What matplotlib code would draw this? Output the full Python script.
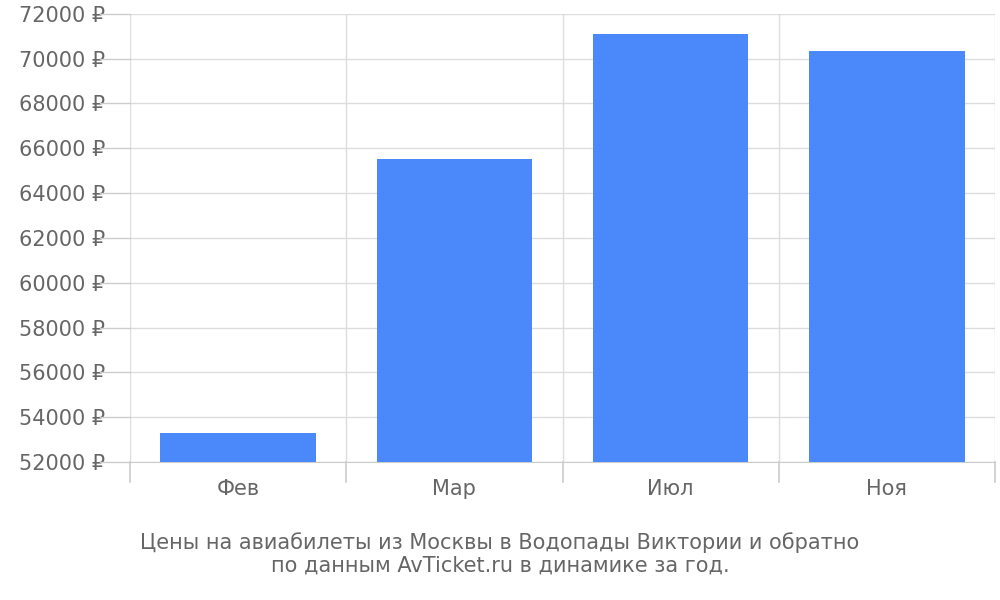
import matplotlib
matplotlib.use("Agg")
import matplotlib.pyplot as plt
import numpy as np

categories = ["Фев", "Мар", "Июл", "Ноя"]
values = [53300, 65500, 71100, 70350]
yticks = list(range(52000, 72001, 2000))

fig = plt.figure(figsize=(10, 6), dpi=100)
ax = fig.add_axes([0.13, 0.23, 0.865, 0.747])
x = np.arange(len(categories))
ax.bar(x, values, width=0.72, color="#4b89fa", zorder=3)
ax.set_xlim(-0.5, len(categories) - 0.5)
ax.set_ylim(52000, 72000)
ax.set_yticks(yticks)
ax.set_yticklabels([f"{v} ₽" for v in yticks], fontsize=15, color="#666666")
ax.set_xticks(x)
ax.set_xticklabels(categories, fontsize=15, color="#666666")
ax.tick_params(axis="x", length=0, pad=12)
ax.tick_params(axis="y", length=0, pad=18)
for b in np.arange(-0.5, len(categories), 1.0):
    ax.axvline(b, color="#dddddd", lw=1, zorder=1)
    ax.plot([b, b], [0, -0.045], transform=ax.get_xaxis_transform(), color="#cccccc", lw=1.2, clip_on=False)
for t in yticks:
    ax.axhline(t, color="#dddddd", lw=1, zorder=1)
    ax.plot([-0.035, 0], [t, t], transform=ax.get_yaxis_transform(), color="#cccccc", lw=1, clip_on=False)
for s in ["top", "right", "left"]:
    ax.spines[s].set_visible(False)
ax.spines["bottom"].set_color("#cccccc")
fig.text(0.5, 0.04, "Цены на авиабилеты из Москвы в Водопады Виктории и обратно\nпо данным AvTicket.ru в динамике за год.",
         ha="center", va="bottom", fontsize=15, color="#666666", linespacing=1.2)
fig.savefig("out.png")
